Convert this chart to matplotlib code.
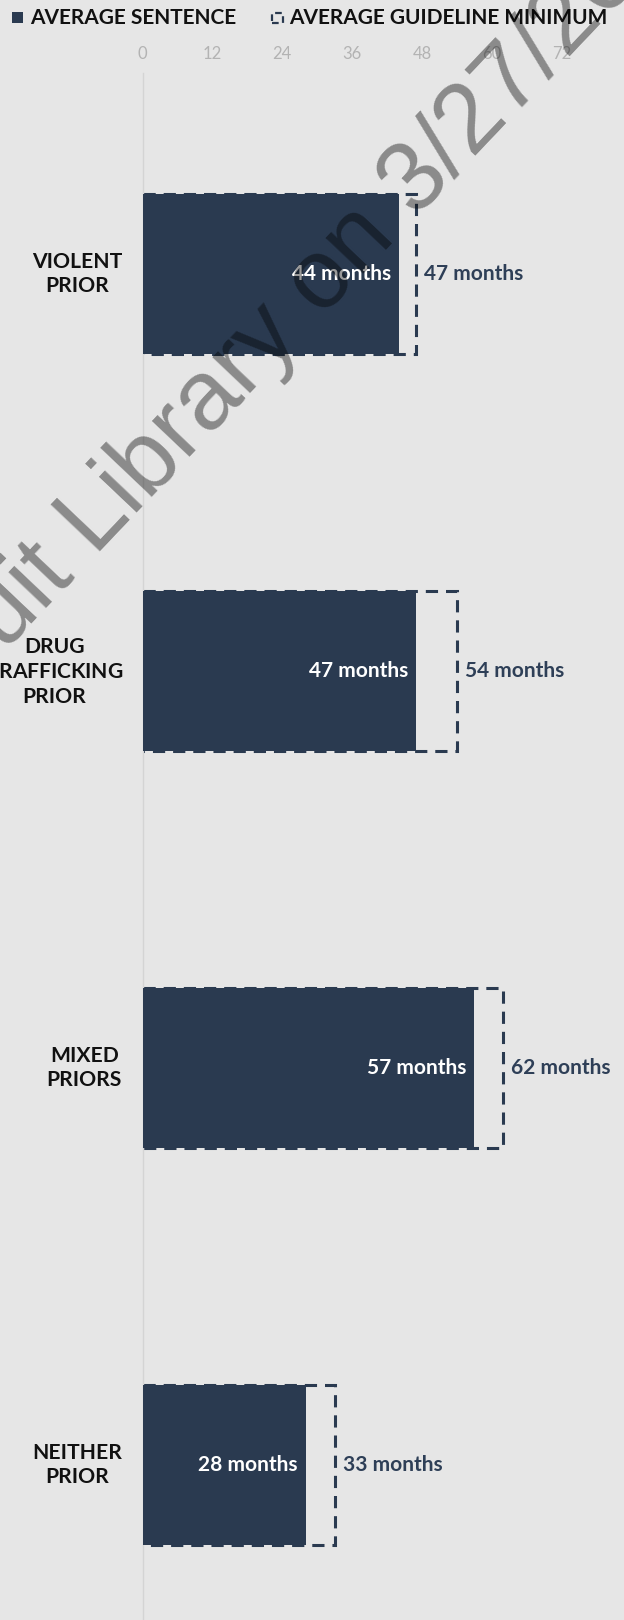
import numpy as np
import matplotlib
matplotlib.use('Agg')
import matplotlib.pyplot as plt
import matplotlib.patches as patches

# data
categories = ['VIOLENT\nPRIOR', 'DRUG\nTRAFFICKING\nPRIOR', 'MIXED\nPRIORS', 'NEITHER\nPRIOR']
avg_sentence = [44, 47, 57, 28]
avg_guideline_min = [47, 54, 62, 33]
x_ticks = [0, 12, 24, 36, 48, 60, 72]

# style
W, H = 624, 1620
BG = '#e6e6e6'
NAVY = '#2a3a50'
LABEL_NAVY = '#2e3f57'
plt.rcParams['font.family'] = ['Lato', 'DejaVu Sans']
LABEL_KW = dict(fontsize=15.2, fontweight='bold', color='#111111')

fig = plt.figure(figsize=(W / 100, H / 100), dpi=100, facecolor=BG)
renderer = fig.canvas.get_renderer()

# axes placed in pixel terms: x=0 at 142.6px, plot top at 73px
ax_left = 142.6 / W
ax_top = 73 / H
ax = fig.add_axes([ax_left, 0, 1 - ax_left, 1 - ax_top])
ax.set_facecolor(BG)

px_per_unit = 5.82
ax.set_xlim(0, (W - 142.6) / px_per_unit)
band = 397.0
first_center = 274.0
y_top = -(first_center - 73) / band
ax.set_ylim(y_top + (H - 73) / band, y_top)

y = np.arange(len(categories))
bar_h = 160 / band

# guideline minimum: dashed outline, drawn first
ax.barh(y, avg_guideline_min, height=bar_h, left=0, color='none',
        edgecolor=NAVY, linewidth=2.2, linestyle=(0, (4, 2.6)), zorder=2)
# average sentence: solid bar
ax.barh(y, avg_sentence, height=bar_h, left=0, color=NAVY,
        edgecolor='none', zorder=3)

pad = 8 / px_per_unit
for i in range(len(categories)):
    ax.text(avg_sentence[i] - pad, y[i], f'{avg_sentence[i]} months',
            ha='right', va='center', color='white', fontsize=15,
            fontweight='bold', zorder=5)
    ax.text(avg_guideline_min[i] + pad, y[i], f'{avg_guideline_min[i]} months',
            ha='left', va='center', color=LABEL_NAVY, fontsize=15,
            fontweight='bold', zorder=5)


def px_width(s):
    t = fig.text(0, 0, s, **LABEL_KW)
    w = t.get_window_extent(renderer).width
    t.remove()
    return w


# category labels: block right edge fixed at 122px, lines centred inside it
for i, lab in enumerate(categories):
    yc = first_center + band * i
    lines = lab.split('\n')
    if len(lines) < 3:
        fig.text(122 / W, 1 - yc / H, lab, ha='right', va='center',
                 multialignment='center', linespacing=1.2, **LABEL_KW)
        continue
    # three-line label: the long middle word is letter-spaced in the reference
    base = [yc - 18, yc + 7, yc + 32]
    word = lines[1]
    widths = [px_width(ch) for ch in word]
    block_w = 136.0
    track = (block_w - sum(widths)) / (len(word) - 1)
    xpos = 122 - block_w
    for ch, w in zip(word, widths):
        fig.text(xpos / W, 1 - base[1] / H, ch, ha='left', va='baseline', **LABEL_KW)
        xpos += w + track
    cx = 122 - block_w / 2
    for k in (0, 2):
        fig.text(cx / W, 1 - base[k] / H, lines[k], ha='center', va='baseline', **LABEL_KW)

# axis styling
for s in ['top', 'right', 'bottom']:
    ax.spines[s].set_visible(False)
ax.spines['left'].set_color('#d4d4d4')
ax.spines['left'].set_linewidth(1)
ax.xaxis.tick_top()
ax.set_xticks(x_ticks)
ax.tick_params(axis='x', length=0, pad=8, labelsize=12, labelcolor='#b3b3b3')
ax.set_yticks([])

# legend
fig.patches.append(patches.Rectangle((12.4 / W, 1 - 23 / H), 10.3 / W, 11.5 / H,
                                     transform=fig.transFigure, facecolor=NAVY,
                                     edgecolor='none'))
fig.text(30 / W, 1 - 18 / H, 'AVERAGE SENTENCE', ha='left', va='center',
         fontsize=15, fontweight='bold', color='#111111')
fig.patches.append(patches.Rectangle((272 / W, 1 - 23 / H), 11 / W, 10 / H,
                                     transform=fig.transFigure, facecolor='none',
                                     edgecolor=NAVY, linewidth=1.6,
                                     linestyle=(0, (3, 2))))
fig.text(289 / W, 1 - 18 / H, 'AVERAGE GUIDELINE MINIMUM', ha='left', va='center',
         fontsize=15, fontweight='bold', color='#111111')

# watermark
fig.text(4.7 / W, 1 - 652 / H, 'uit Library on 3/27/20', rotation=46.5,
         rotation_mode='anchor', ha='left', va='baseline', fontsize=71,
         family=['Liberation Sans', 'DejaVu Sans'], color='black', alpha=0.4,
         zorder=10)

fig.savefig('out.png', dpi=100, facecolor=BG)
